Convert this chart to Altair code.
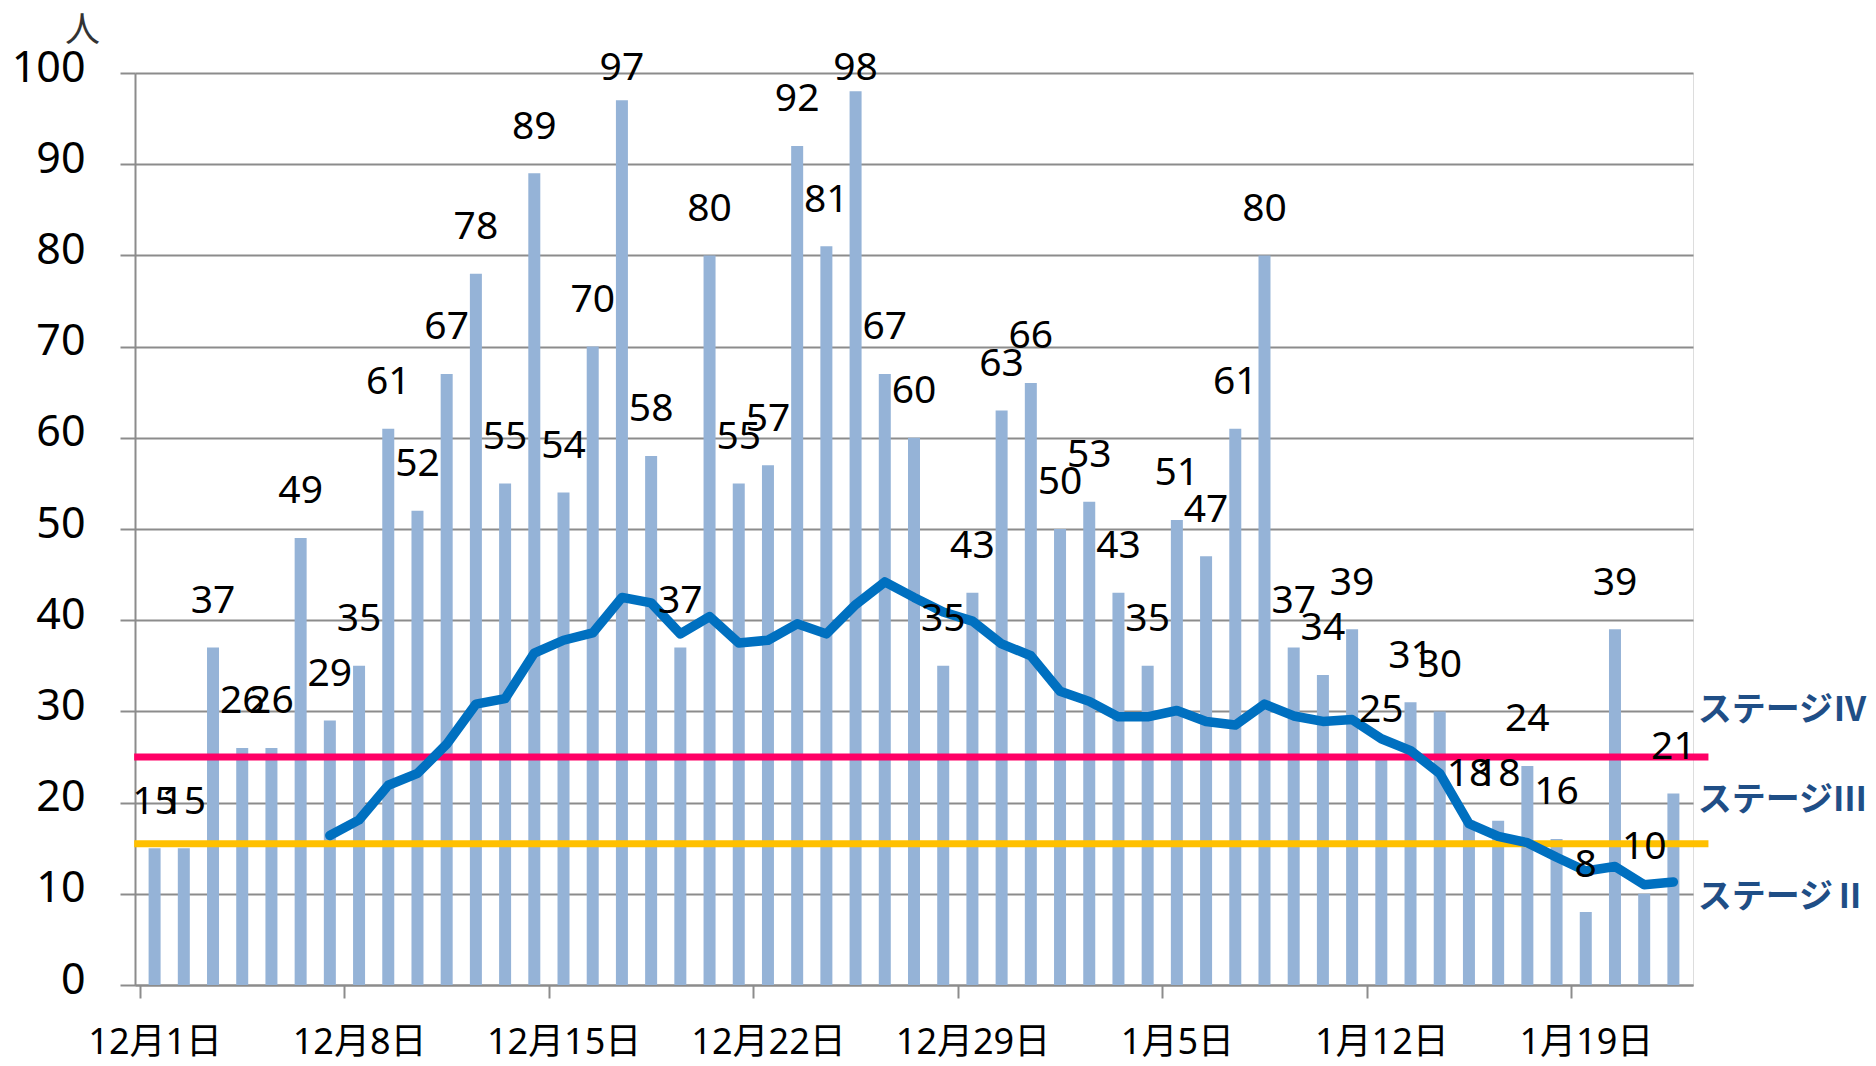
import altair as alt
import pandas as pd

# Daily counts 12/1 .. 1/22
counts = [15, 15, 37, 26, 26, 49, 29, 35, 61, 52, 67, 78, 55, 89, 54, 70, 97, 58, 37, 80,
          55, 57, 92, 81, 98, 67, 60, 35, 43, 63, 66,
          50, 53, 43, 35, 51, 47, 61, 80, 37, 34, 39, 25, 31, 30, 18, 18, 24, 16, 8, 39, 10, 21]

# Weekly indicator line (starts 12/7)
avg = [16.4, 18.1, 21.9, 23.2, 26.4, 30.8, 31.4, 36.4, 37.8, 38.6, 42.5, 41.9, 38.5, 40.4,
       37.5, 37.8, 39.6, 38.5, 41.7, 44.2, 42.5, 40.9, 39.9, 37.4, 36.1, 32.2, 31.1, 29.4,
       29.4, 30.1, 28.9, 28.5, 30.8, 29.5, 28.9, 29.1, 27.0, 25.7, 23.2, 17.7, 16.3, 15.6,
       14.0, 12.5, 13.0, 11.0, 11.3]
avg_start = 6

tick_labels = ["12月1日", "12月8日", "12月15日", "12月22日", "12月29日", "1月5日", "1月12日", "1月19日"]

stage_names = ["ステージⅣ", "ステージⅢ", "ステージⅡ"]
stage_label_y = [30.0, 20.2, 9.5]
stage_lines = [25, 15.5]
stage_colors = ["#FF0066", "#FFC000"]

FONT = "Noto Sans, Noto Sans CJK JP, sans-serif"
GRID = "#8C8C8C"
N = len(counts)

bars_df = pd.DataFrame({"idx": list(range(N)), "count": counts})
line_df = pd.DataFrame({"idx": list(range(avg_start, avg_start + len(avg))), "avg": avg})
stage_df = pd.DataFrame({"name": stage_names, "y": stage_label_y})
rule_df = pd.DataFrame({"v": stage_lines, "c": stage_colors})

label_expr = "[" + ",".join("'%s'" % t for t in tick_labels) + "][round(datum.value/7)]"

xscale = alt.Scale(domain=[0, N], nice=False, zero=False)
yscale = alt.Scale(domain=[0, 100], nice=False)

x_axis = alt.Axis(values=list(range(0, N, 7)), labelExpr=label_expr, labelOffset=14.7,
                  tickSize=13, tickColor=GRID, tickWidth=2, domainColor=GRID, domainWidth=2,
                  grid=False, labelFontSize=36, labelFont=FONT, labelColor="#000000",
                  labelPadding=27, title=None)
y_axis = alt.Axis(values=list(range(0, 101, 10)), tickSize=15, tickColor=GRID, tickWidth=2,
                  domainColor=GRID, domainWidth=2, gridColor=GRID, gridWidth=2,
                  labelFontSize=43, labelFont=FONT, labelColor="#000000", labelPadding=35,
                  labelOffset=-5, title="人", titleAngle=0, titleX=-53, titleY=-43,
                  titleAlign="center", titleBaseline="middle", titleFontSize=35,
                  titleFont="Noto Sans CJK JP", titleFontWeight="normal", titleColor="#333333")

base = alt.Chart(bars_df).transform_calculate(pos="datum.idx + 0.5")

bars = base.mark_bar(color="#95B3D7", size=12).encode(
    x=alt.X("pos:Q", scale=xscale, axis=x_axis),
    y=alt.Y("count:Q", scale=yscale, axis=y_axis),
)

labels = base.transform_calculate(ly="min(datum.count + 3.8, 99.2)").mark_text(
    font=FONT, fontSize=39, color="#000000", baseline="alphabetic", align="center"
).encode(
    x=alt.X("pos:Q", scale=xscale),
    y=alt.Y("ly:Q", scale=yscale),
    text="count:Q",
)

rules = alt.Chart(rule_df).transform_calculate(x0="-0.2", x1="53.7").mark_rule(strokeWidth=7).encode(
    x=alt.X("x0:Q", scale=xscale),
    x2="x1:Q",
    y=alt.Y("v:Q", scale=yscale),
    color=alt.Color("c:N", scale=None, legend=None),
)

line = alt.Chart(line_df).transform_calculate(pos="datum.idx + 0.5").mark_line(
    color="#0070C0", strokeWidth=9.5, strokeJoin="round", strokeCap="round"
).encode(
    x=alt.X("pos:Q", scale=xscale),
    y=alt.Y("avg:Q", scale=yscale),
)

stage_text = alt.Chart(stage_df).transform_calculate(xp="53.33").mark_text(
    font="Noto Sans CJK JP", fontSize=34, fontWeight="bold", color="#1F4E86",
    align="left", baseline="middle"
).encode(
    x=alt.X("xp:Q", scale=xscale),
    y=alt.Y("y:Q", scale=yscale),
    text="name:N",
)

chart = alt.layer(bars, rules, line, labels, stage_text).properties(
    width=1558, height=912,
    autosize=alt.AutoSizeParams(type="none"),
    padding={"left": 127, "top": 65, "right": 175, "bottom": 78},
).configure_view(stroke=None).configure(background="white")

chart.save("out.html", embed_options={"renderer": "svg", "actions": False})
